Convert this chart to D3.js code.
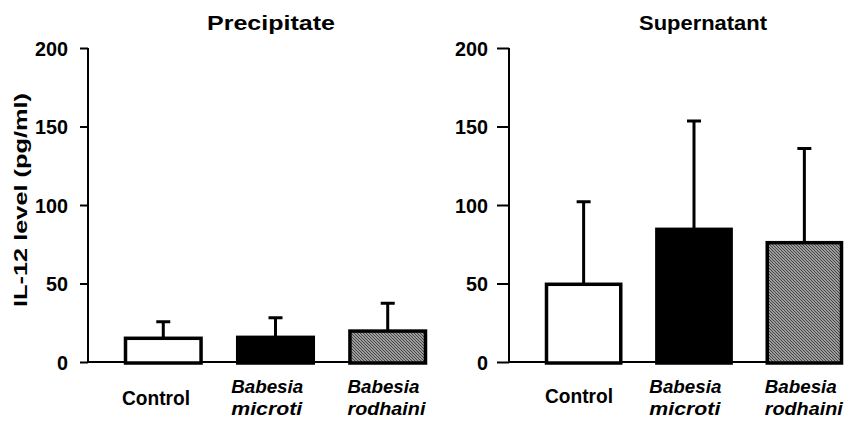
<!DOCTYPE html>
<html>
<head>
<meta charset="utf-8">
<script src="https://cdn.jsdelivr.net/npm/d3@7"></script>
<style>
  body { margin: 0; background: #fff; }
  svg text { font-family: "Liberation Sans", Arial, sans-serif; font-weight: bold; fill: #000; }
</style>
</head>
<body>
<div id="chart"></div>
<script>
// data (mean and upper error, pg/ml)
const groups = ['Control', 'Babesia microti', 'Babesia rodhaini'];
const precipitateMean = [15.1, 15.7, 19.7];
const precipitateSD = [10.6, 12.5, 17.7];
const supernatantMean = [49.5, 84.5, 76];
const supernatantSD = [52.5, 69, 60];
const yTicks = [0, 50, 100, 150, 200];

const width = 845, height = 421;

const svg = d3.select('#chart')
  .append('svg')
  .attr('width', width)
  .attr('height', height);

// hatch for the third group
const defs = svg.append('defs');
const pat = defs.append('pattern')
  .attr('id', 'hatch')
  .attr('width', 3)
  .attr('height', 3)
  .attr('patternUnits', 'userSpaceOnUse');
pat.append('rect').attr('width', 3).attr('height', 3).attr('fill', '#fff');
pat.append('path')
  .attr('d', 'M-1,-1 L4,4 M-1,2 L1,4 M2,-1 L4,1')
  .attr('stroke', '#444')
  .attr('stroke-width', 1.5);

const fills = ['#fff', '#000', 'url(#hatch)'];

const y = d3.scaleLinear().domain([0, 200]).range([362, 48]);

const panels = [
  { title: 'Precipitate', titleX: 271, axisX: 88, tick: 8, pad: 12, range: [124, 427], mean: precipitateMean, sd: precipitateSD, ctrlY: 405, babY: 393 },
  { title: 'Supernatant', titleX: 703, axisX: 509, tick: 12, pad: 9, range: [545, 843], mean: supernatantMean, sd: supernatantSD, ctrlY: 403, babY: 393 }
];

// label start offsets relative to band start
const labelShift = [[-2, -5, -1], [0, -6, -1]];

panels.forEach((p, pi) => {
  const x = d3.scaleBand().domain(groups).range(p.range).paddingInner(0.3).paddingOuter(0);
  const g = svg.append('g');

  g.append('text')
    .attr('x', p.titleX)
    .attr('y', 30)
    .attr('text-anchor', 'middle')
    .attr('font-size', 20)
    .attr('textLength', 128)
    .attr('lengthAdjust', 'spacingAndGlyphs')
    .text(p.title);

  // y axis
  const axis = g.append('g')
    .attr('transform', `translate(${p.axisX},0)`)
    .call(d3.axisLeft(y).tickValues(yTicks).tickSize(p.tick).tickPadding(p.pad).tickFormat(d3.format('d')));
  axis.select('.domain').remove();
  axis.selectAll('.tick line').attr('stroke', '#000').attr('stroke-width', 2);
  axis.selectAll('.tick text')
    .attr('font-size', 20)
    .attr('font-family', '"Liberation Sans", Arial, sans-serif')
    .attr('font-weight', 'bold')
    .attr('fill', '#000')
    .attr('textLength', d => String(d).length * 11)
    .attr('lengthAdjust', 'spacingAndGlyphs')
    .attr('dy', '0.36em');

  g.append('line')
    .attr('x1', p.axisX).attr('x2', p.axisX)
    .attr('y1', y(200)).attr('y2', y(0))
    .attr('stroke', '#000').attr('stroke-width', 2);

  // baseline
  g.append('line')
    .attr('x1', p.axisX).attr('x2', p.range[1])
    .attr('y1', y(0)).attr('y2', y(0))
    .attr('stroke', '#000').attr('stroke-width', 2);

  const data = groups.map((k, i) => ({ k, i, m: p.mean[i], sd: p.sd[i] }));

  // error bars (upper only)
  g.selectAll('.err')
    .data(data)
    .enter().append('path')
    .attr('class', 'err')
    .attr('d', d => {
      const cx = x(d.k) + x.bandwidth() / 2;
      return `M${cx},${y(d.m)}V${y(d.m + d.sd)}M${cx - 7},${y(d.m + d.sd)}H${cx + 7}`;
    })
    .attr('stroke', '#000')
    .attr('stroke-width', 3)
    .attr('fill', 'none');

  g.selectAll('.bar')
    .data(data)
    .enter().append('rect')
    .attr('class', 'bar')
    .attr('x', d => x(d.k) + 1.5)
    .attr('width', x.bandwidth() - 3)
    .attr('y', d => y(d.m))
    .attr('height', d => y(0) - y(d.m) + 1)
    .attr('fill', d => fills[d.i])
    .attr('stroke', '#000')
    .attr('stroke-width', 3.5);

  // category labels
  data.forEach(d => {
    const lx = x(d.k) + labelShift[pi][d.i];
    if (d.k === 'Control') {
      g.append('text')
        .attr('x', lx).attr('y', p.ctrlY)
        .attr('font-size', 20)
        .attr('textLength', 68)
        .attr('lengthAdjust', 'spacingAndGlyphs')
        .text(d.k);
    } else {
      const parts = d.k.split(' ');
      const lens = [72, parts[1] === 'microti' ? 71 : 78];
      parts.forEach((s, j) => {
        g.append('text')
          .attr('x', lx).attr('y', p.babY + j * 22)
          .attr('font-size', 19)
          .attr('font-style', 'italic')
          .attr('textLength', lens[j])
          .attr('lengthAdjust', 'spacingAndGlyphs')
          .text(s);
      });
    }
  });
});

// y axis title
svg.append('text')
  .attr('transform', 'translate(27,200) rotate(-90)')
  .attr('text-anchor', 'middle')
  .attr('font-size', 19)
  .attr('textLength', 214)
  .attr('lengthAdjust', 'spacingAndGlyphs')
  .text('IL-12 level (pg/ml)');
</script>
</body>
</html>
